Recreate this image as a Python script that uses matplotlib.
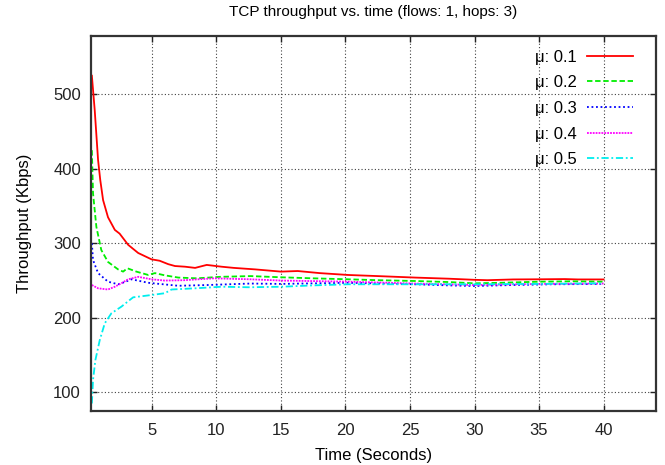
import numpy as np
import matplotlib
matplotlib.use("Agg")
import matplotlib.pyplot as plt

plt.rcParams['font.family'] = ['Liberation Sans', 'DejaVu Sans']

# throughput samples (Kbps), per mu value
t1 = [0.35, 0.57, 0.83, 1.0, 1.22, 1.6, 2.13, 2.5, 3.16, 3.94, 4.97, 5.6, 6.27, 6.79, 7.57, 8.35,
      9.25, 10.4, 11.35, 13.0, 15.0, 16.3, 18.0, 20.2, 22.5, 25.4, 28.0, 30.0, 31.0, 33.0, 35.0,
      37.0, 38.0, 40.0]
mu1 = [525, 479, 412, 385, 358, 335, 318, 313, 298, 287, 278.5, 276.6, 272, 269.5, 268.6, 267,
       271, 268.6, 267, 265, 262, 262.8, 260, 257.5, 256, 254, 252.5, 251, 250.5, 251.5, 251.7,
       252, 251.5, 251.5]

t2 = [0.35, 0.44, 0.7, 1.08, 1.6, 2.38, 2.77, 3.1, 3.8, 4.72, 5.24, 6.0, 7.05, 8.5, 10.3, 12.65,
      15, 17.5, 20.2, 22.5, 25.4, 28, 30, 32, 35, 37.5, 40]
mu2 = [425, 367, 322, 291, 275, 265, 262, 266.5, 262, 257.5, 260, 257, 254, 253, 255, 256,
       254.4, 253, 251.7, 250.5, 249.4, 248, 246.3, 247, 248.5, 249, 248.5]

t3 = [0.35, 0.44, 0.83, 1.6, 2.38, 2.9, 3.42, 4.72, 7.05, 9.3, 12.65, 15, 20.2, 25.4, 28, 30,
      33, 36, 40]
mu3 = [300, 277.6, 260, 248.5, 245, 248, 251.7, 247, 243, 244, 246, 245.5, 247, 245, 243.5,
       242.7, 244, 245, 245.4]

t4 = [0.35, 0.83, 1.6, 2.13, 2.6, 3.16, 3.94, 4.97, 6.0, 7.5, 9.8, 12.65, 15, 20.2, 25.4, 30,
      35, 40]
mu4 = [244, 239.6, 238, 241.7, 246, 251.7, 255, 251.7, 250, 250.5, 253, 251.7, 250, 248.5, 246,
       244, 245.5, 246]

t5 = [0.35, 0.44, 0.62, 0.96, 1.35, 1.86, 2.64, 3.29, 3.55, 4.97, 6.0, 6.53, 8.35, 10.4, 12.5,
      15, 17.5, 20.2, 25.4, 30, 35, 40]
mu5 = [85, 116.5, 143, 170, 192.6, 206, 215, 224, 227.5, 230.6, 233, 238, 239.6, 241.7, 241,
       241.7, 243.5, 245, 245, 245, 245.5, 246.3]

labels = ['\u03bc: 0.1', '\u03bc: 0.2', '\u03bc: 0.3', '\u03bc: 0.4', '\u03bc: 0.5']

fig = plt.figure(figsize=(6.65, 4.65), dpi=100)
ax = fig.add_axes([0.1364, 0.1168, 0.986 - 0.1364, 0.9232 - 0.1168])

ax.plot(t1, mu1, color='#ff0000', lw=1.3, ls='-', label=labels[0])
ax.plot(t2, mu2, color='#00ee00', lw=1.3, ls=(0, (3, 1.5)), label=labels[1])
ax.plot(t3, mu3, color='#0000ff', lw=1.3, ls=(0, (1, 1.5)), label=labels[2])
ax.plot(t4, mu4, color='#ff00ff', lw=1.3, ls=(0, (1, 0.6)), label=labels[3])
ax.plot(t5, mu5, color='#00eeee', lw=1.3, ls=(0, (4, 1.5, 1, 1.5)), label=labels[4])

ax.set_xlim(0.26, 44.04)
ax.set_ylim(75.3, 578.7)
ax.set_xticks([5, 10, 15, 20, 25, 30, 35, 40])
ax.set_yticks([100, 200, 300, 400, 500])
ax.grid(True, color='0.25', ls=(0, (1, 2)), lw=0.8)
ax.tick_params(direction='in', top=True, right=True, length=4.5, width=1,
               labelsize=12, colors='#222222')
ax.tick_params(axis='x', pad=9)
ax.tick_params(axis='y', pad=7)
for s in ax.spines.values():
    s.set_linewidth(1.6)
    s.set_color('#333333')

ax.set_title('TCP throughput vs. time (flows: 1, hops: 3)', fontsize=11, pad=14)
ax.set_xlabel('Time (Seconds)', fontsize=12, labelpad=7)
ax.set_ylabel('Throughput (Kbps)', fontsize=12, labelpad=15)

ax.legend(loc='upper right', frameon=False, markerfirst=False, fontsize=12,
          handlelength=2.8, handletextpad=0.6, labelspacing=0.64,
          bbox_to_anchor=(0.987, 1.003))

plt.savefig('out.png', dpi=100)
